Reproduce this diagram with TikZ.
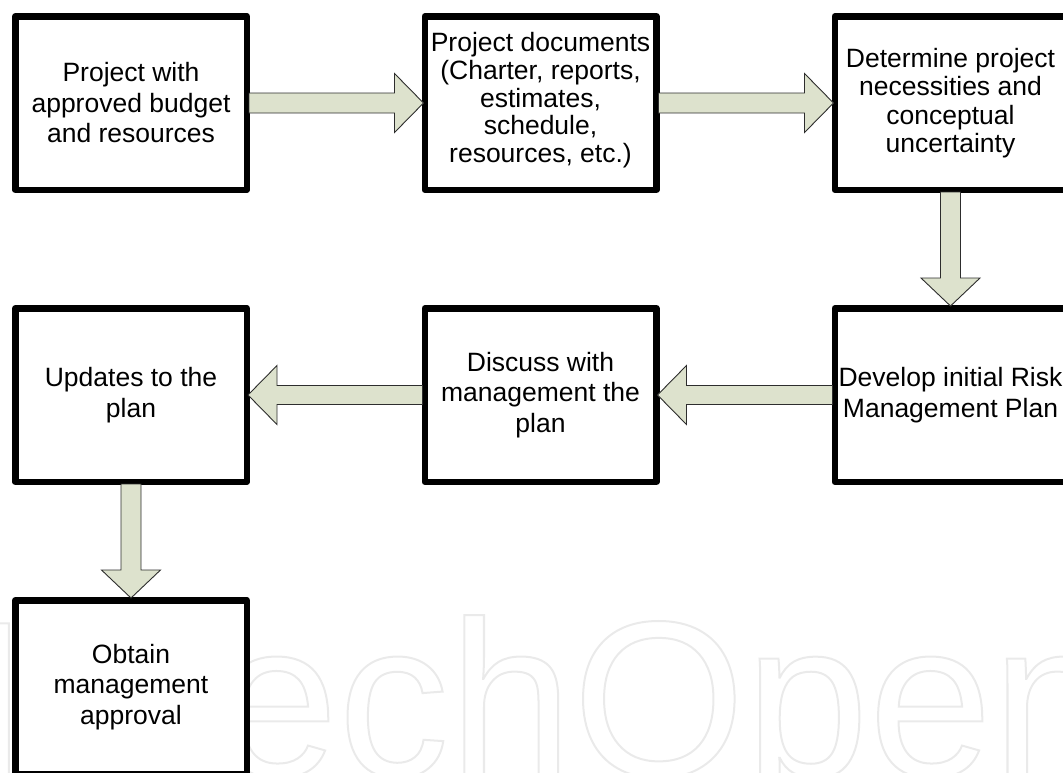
\documentclass[tikz,border=0pt]{standalone}
\usepackage{fontspec}
\setmainfont{Liberation Sans}
\usetikzlibrary{calc}

\definecolor{arrowfill}{RGB}{221,226,205}
\definecolor{arrowline}{RGB}{45,45,45}
\definecolor{wmark}{RGB}{234,234,234}

% hollow (stroked-only) lettering
\newcommand\hollowtext[1]{\special{pdf:literal direct 1 Tr 2 w}#1\special{pdf:literal direct 0 Tr}}

\tikzset{
  stepbox/.style={draw=black, line width=6.5pt, line join=round, fill=white,
    minimum width=231.5pt, minimum height=173.5pt, inner sep=0pt,
    align=center, font=\fontsize{26.5}{30.5}\selectfont},
  blockarrow/.style={draw=arrowline, line width=0.9pt, fill=arrowfill, line join=miter},
}

% wide block arrows between the anchors of two boxes
\newcommand\rightblock[2]{%
  \draw[blockarrow] ($(#1.east)+(-1,-10)$) -- ($(#2.west)+(-27,-10)$)
    -- ($(#2.west)+(-27,-29.5)$) -- ($(#2.west)+(2,0)$)
    -- ($(#2.west)+(-27,29.5)$) -- ($(#2.west)+(-27,10)$)
    -- ($(#1.east)+(-1,10)$) -- cycle;}
\newcommand\leftblock[2]{%
  \draw[blockarrow] ($(#1.west)+(1,-9.5)$) -- ($(#2.east)+(27,-9.5)$)
    -- ($(#2.east)+(27,-29.5)$) -- ($(#2.east)+(-2,0)$)
    -- ($(#2.east)+(27,29.5)$) -- ($(#2.east)+(27,9.5)$)
    -- ($(#1.west)+(1,9.5)$) -- cycle;}
\newcommand\downblock[2]{%
  \draw[blockarrow] ($(#1.south)+(-10,-1)$) -- ($(#2.north)+(-10,-27)$)
    -- ($(#2.north)+(-29.5,-27)$) -- ($(#2.north)+(0,1)$)
    -- ($(#2.north)+(29.5,-27)$) -- ($(#2.north)+(10,-27)$)
    -- ($(#1.south)+(10,-1)$) -- cycle;}

\begin{document}
\begin{tikzpicture}[x=1pt,y=-1pt]
\useasboundingbox (0,0) rectangle (1063,772);

% outlined watermark lettering behind the boxes
\node[anchor=base west, inner sep=0pt, text=wmark, font=\fontsize{222}{222}\selectfont] (wm) at (-32.4,776)
  {\hollowtext{IntechOpen}};

% process steps
\node[stepbox] (s1) at (131,103) {Project with\\approved budget\\and resources};
\node[stepbox, font=\fontsize{26.5}{27.7}\selectfont, text depth=11pt] (s2) at (540.5,103)
  {Project documents\\(Charter, reports,\\estimates,\\schedule,\\resources, etc.)};
\node[stepbox, font=\fontsize{26.5}{28.5}\selectfont] (s3) at (950.5,103) {Determine project\\necessities and\\conceptual\\uncertainty};
\node[stepbox] (s4) at (950.5,395) {Develop initial Risk\\Management Plan};
\node[stepbox] (s5) at (540.5,395) {Discuss with\\management the\\plan};
\node[stepbox] (s6) at (131,395) {Updates to the\\plan};
\node[stepbox] (s7) at (131,687) {Obtain\\management\\approval};

% flow
\rightblock{s1}{s2}
\rightblock{s2}{s3}
\downblock{s3}{s4}
\leftblock{s4}{s5}
\leftblock{s5}{s6}
\downblock{s6}{s7}
\end{tikzpicture}
\end{document}
